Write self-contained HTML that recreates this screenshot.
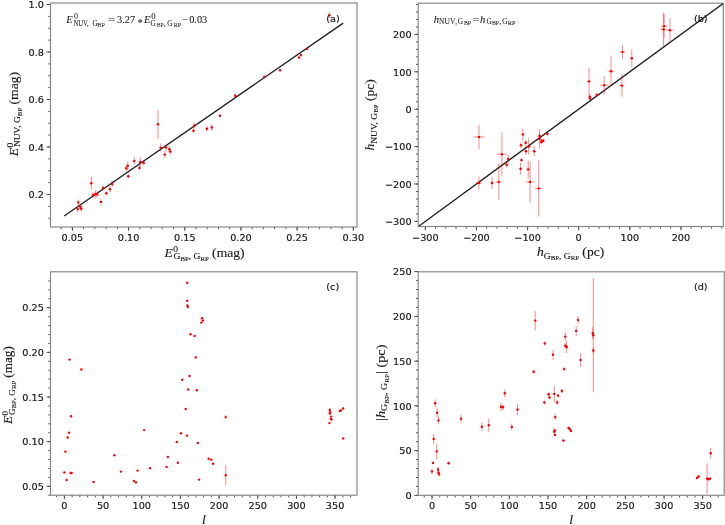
<!DOCTYPE html>
<html><head><meta charset="utf-8"><title>figure</title>
<style>
html,body{margin:0;padding:0;background:#fff;}
svg{display:block;}
.sp{fill:none;stroke:#858585;stroke-width:1.15;}
.tk{stroke:#444;stroke-width:0.9;}
.tl{font-family:"DejaVu Sans",sans-serif;font-size:9.7px;fill:#1a1a1a;stroke:#1a1a1a;stroke-width:0.2px;}
.mt{font-family:"Liberation Serif",serif;fill:#1a1a1a;stroke:#1a1a1a;stroke-width:0.008em;}
.eb{stroke:#ff0000;stroke-opacity:0.45;stroke-width:1.05;}
.pt{fill:#ff0000;}
.fl{stroke:#202020;stroke-width:1.35;}
</style></head>
<body>
<svg width="725" height="525" viewBox="0 0 725 525">
<rect width="725" height="525" fill="#fff"/>
<!--axes-->
<line x1="61.16" y1="227.00" x2="61.16" y2="229.20" class="tk"/>
<line x1="72.40" y1="227.00" x2="72.40" y2="229.20" class="tk"/>
<line x1="83.64" y1="227.00" x2="83.64" y2="229.20" class="tk"/>
<line x1="94.87" y1="227.00" x2="94.87" y2="229.20" class="tk"/>
<line x1="106.11" y1="227.00" x2="106.11" y2="229.20" class="tk"/>
<line x1="117.34" y1="227.00" x2="117.34" y2="229.20" class="tk"/>
<line x1="128.58" y1="227.00" x2="128.58" y2="229.20" class="tk"/>
<line x1="139.82" y1="227.00" x2="139.82" y2="229.20" class="tk"/>
<line x1="151.05" y1="227.00" x2="151.05" y2="229.20" class="tk"/>
<line x1="162.29" y1="227.00" x2="162.29" y2="229.20" class="tk"/>
<line x1="173.52" y1="227.00" x2="173.52" y2="229.20" class="tk"/>
<line x1="184.76" y1="227.00" x2="184.76" y2="229.20" class="tk"/>
<line x1="196.00" y1="227.00" x2="196.00" y2="229.20" class="tk"/>
<line x1="207.23" y1="227.00" x2="207.23" y2="229.20" class="tk"/>
<line x1="218.47" y1="227.00" x2="218.47" y2="229.20" class="tk"/>
<line x1="229.70" y1="227.00" x2="229.70" y2="229.20" class="tk"/>
<line x1="240.94" y1="227.00" x2="240.94" y2="229.20" class="tk"/>
<line x1="252.18" y1="227.00" x2="252.18" y2="229.20" class="tk"/>
<line x1="263.41" y1="227.00" x2="263.41" y2="229.20" class="tk"/>
<line x1="274.65" y1="227.00" x2="274.65" y2="229.20" class="tk"/>
<line x1="285.88" y1="227.00" x2="285.88" y2="229.20" class="tk"/>
<line x1="297.12" y1="227.00" x2="297.12" y2="229.20" class="tk"/>
<line x1="308.36" y1="227.00" x2="308.36" y2="229.20" class="tk"/>
<line x1="319.59" y1="227.00" x2="319.59" y2="229.20" class="tk"/>
<line x1="330.83" y1="227.00" x2="330.83" y2="229.20" class="tk"/>
<line x1="342.06" y1="227.00" x2="342.06" y2="229.20" class="tk"/>
<line x1="353.30" y1="227.00" x2="353.30" y2="229.20" class="tk"/>
<line x1="72.40" y1="227.00" x2="72.40" y2="231.00" class="tk"/>
<text transform="translate(72.40,241.10) scale(1,0.97)" class="tl" text-anchor="middle">0.05</text>
<line x1="128.58" y1="227.00" x2="128.58" y2="231.00" class="tk"/>
<text transform="translate(128.58,241.10) scale(1,0.97)" class="tl" text-anchor="middle">0.10</text>
<line x1="184.76" y1="227.00" x2="184.76" y2="231.00" class="tk"/>
<text transform="translate(184.76,241.10) scale(1,0.97)" class="tl" text-anchor="middle">0.15</text>
<line x1="240.94" y1="227.00" x2="240.94" y2="231.00" class="tk"/>
<text transform="translate(240.94,241.10) scale(1,0.97)" class="tl" text-anchor="middle">0.20</text>
<line x1="297.12" y1="227.00" x2="297.12" y2="231.00" class="tk"/>
<text transform="translate(297.12,241.10) scale(1,0.97)" class="tl" text-anchor="middle">0.25</text>
<line x1="353.30" y1="227.00" x2="353.30" y2="231.00" class="tk"/>
<text transform="translate(353.30,241.10) scale(1,0.97)" class="tl" text-anchor="middle">0.30</text>
<line x1="48.30" y1="218.25" x2="50.50" y2="218.25" class="tk"/>
<line x1="48.30" y1="206.38" x2="50.50" y2="206.38" class="tk"/>
<line x1="48.30" y1="194.50" x2="50.50" y2="194.50" class="tk"/>
<line x1="48.30" y1="182.62" x2="50.50" y2="182.62" class="tk"/>
<line x1="48.30" y1="170.75" x2="50.50" y2="170.75" class="tk"/>
<line x1="48.30" y1="158.88" x2="50.50" y2="158.88" class="tk"/>
<line x1="48.30" y1="147.00" x2="50.50" y2="147.00" class="tk"/>
<line x1="48.30" y1="135.12" x2="50.50" y2="135.12" class="tk"/>
<line x1="48.30" y1="123.25" x2="50.50" y2="123.25" class="tk"/>
<line x1="48.30" y1="111.37" x2="50.50" y2="111.37" class="tk"/>
<line x1="48.30" y1="99.50" x2="50.50" y2="99.50" class="tk"/>
<line x1="48.30" y1="87.62" x2="50.50" y2="87.62" class="tk"/>
<line x1="48.30" y1="75.75" x2="50.50" y2="75.75" class="tk"/>
<line x1="48.30" y1="63.88" x2="50.50" y2="63.88" class="tk"/>
<line x1="48.30" y1="52.00" x2="50.50" y2="52.00" class="tk"/>
<line x1="48.30" y1="40.13" x2="50.50" y2="40.13" class="tk"/>
<line x1="48.30" y1="28.25" x2="50.50" y2="28.25" class="tk"/>
<line x1="48.30" y1="16.38" x2="50.50" y2="16.38" class="tk"/>
<line x1="48.30" y1="4.50" x2="50.50" y2="4.50" class="tk"/>
<line x1="46.50" y1="194.50" x2="50.50" y2="194.50" class="tk"/>
<text transform="translate(43.90,198.20) scale(1,0.97)" class="tl" text-anchor="end">0.2</text>
<line x1="46.50" y1="147.00" x2="50.50" y2="147.00" class="tk"/>
<text transform="translate(43.90,150.70) scale(1,0.97)" class="tl" text-anchor="end">0.4</text>
<line x1="46.50" y1="99.50" x2="50.50" y2="99.50" class="tk"/>
<text transform="translate(43.90,103.20) scale(1,0.97)" class="tl" text-anchor="end">0.6</text>
<line x1="46.50" y1="52.00" x2="50.50" y2="52.00" class="tk"/>
<text transform="translate(43.90,55.70) scale(1,0.97)" class="tl" text-anchor="end">0.8</text>
<line x1="46.50" y1="4.50" x2="50.50" y2="4.50" class="tk"/>
<text transform="translate(43.90,8.20) scale(1,0.97)" class="tl" text-anchor="end">1.0</text>
<rect x="50.50" y="3.00" width="306.50" height="224.00" class="sp"/>
<line x1="425.34" y1="226.50" x2="425.34" y2="228.70" class="tk"/>
<line x1="435.56" y1="226.50" x2="435.56" y2="228.70" class="tk"/>
<line x1="445.79" y1="226.50" x2="445.79" y2="228.70" class="tk"/>
<line x1="456.01" y1="226.50" x2="456.01" y2="228.70" class="tk"/>
<line x1="466.24" y1="226.50" x2="466.24" y2="228.70" class="tk"/>
<line x1="476.46" y1="226.50" x2="476.46" y2="228.70" class="tk"/>
<line x1="486.68" y1="226.50" x2="486.68" y2="228.70" class="tk"/>
<line x1="496.91" y1="226.50" x2="496.91" y2="228.70" class="tk"/>
<line x1="507.13" y1="226.50" x2="507.13" y2="228.70" class="tk"/>
<line x1="517.36" y1="226.50" x2="517.36" y2="228.70" class="tk"/>
<line x1="527.58" y1="226.50" x2="527.58" y2="228.70" class="tk"/>
<line x1="537.80" y1="226.50" x2="537.80" y2="228.70" class="tk"/>
<line x1="548.03" y1="226.50" x2="548.03" y2="228.70" class="tk"/>
<line x1="558.25" y1="226.50" x2="558.25" y2="228.70" class="tk"/>
<line x1="568.48" y1="226.50" x2="568.48" y2="228.70" class="tk"/>
<line x1="578.70" y1="226.50" x2="578.70" y2="228.70" class="tk"/>
<line x1="588.92" y1="226.50" x2="588.92" y2="228.70" class="tk"/>
<line x1="599.15" y1="226.50" x2="599.15" y2="228.70" class="tk"/>
<line x1="609.37" y1="226.50" x2="609.37" y2="228.70" class="tk"/>
<line x1="619.60" y1="226.50" x2="619.60" y2="228.70" class="tk"/>
<line x1="629.82" y1="226.50" x2="629.82" y2="228.70" class="tk"/>
<line x1="640.04" y1="226.50" x2="640.04" y2="228.70" class="tk"/>
<line x1="650.27" y1="226.50" x2="650.27" y2="228.70" class="tk"/>
<line x1="660.49" y1="226.50" x2="660.49" y2="228.70" class="tk"/>
<line x1="670.72" y1="226.50" x2="670.72" y2="228.70" class="tk"/>
<line x1="680.94" y1="226.50" x2="680.94" y2="228.70" class="tk"/>
<line x1="691.16" y1="226.50" x2="691.16" y2="228.70" class="tk"/>
<line x1="701.39" y1="226.50" x2="701.39" y2="228.70" class="tk"/>
<line x1="711.61" y1="226.50" x2="711.61" y2="228.70" class="tk"/>
<line x1="721.84" y1="226.50" x2="721.84" y2="228.70" class="tk"/>
<line x1="425.34" y1="226.50" x2="425.34" y2="230.50" class="tk"/>
<text transform="translate(425.34,240.60) scale(1,0.97)" class="tl" text-anchor="middle">−300</text>
<line x1="476.46" y1="226.50" x2="476.46" y2="230.50" class="tk"/>
<text transform="translate(476.46,240.60) scale(1,0.97)" class="tl" text-anchor="middle">−200</text>
<line x1="527.58" y1="226.50" x2="527.58" y2="230.50" class="tk"/>
<text transform="translate(527.58,240.60) scale(1,0.97)" class="tl" text-anchor="middle">−100</text>
<line x1="578.70" y1="226.50" x2="578.70" y2="230.50" class="tk"/>
<text transform="translate(578.70,240.60) scale(1,0.97)" class="tl" text-anchor="middle">0</text>
<line x1="629.82" y1="226.50" x2="629.82" y2="230.50" class="tk"/>
<text transform="translate(629.82,240.60) scale(1,0.97)" class="tl" text-anchor="middle">100</text>
<line x1="680.94" y1="226.50" x2="680.94" y2="230.50" class="tk"/>
<text transform="translate(680.94,240.60) scale(1,0.97)" class="tl" text-anchor="middle">200</text>
<line x1="416.00" y1="221.40" x2="418.20" y2="221.40" class="tk"/>
<line x1="416.00" y1="213.92" x2="418.20" y2="213.92" class="tk"/>
<line x1="416.00" y1="206.44" x2="418.20" y2="206.44" class="tk"/>
<line x1="416.00" y1="198.96" x2="418.20" y2="198.96" class="tk"/>
<line x1="416.00" y1="191.48" x2="418.20" y2="191.48" class="tk"/>
<line x1="416.00" y1="184.00" x2="418.20" y2="184.00" class="tk"/>
<line x1="416.00" y1="176.52" x2="418.20" y2="176.52" class="tk"/>
<line x1="416.00" y1="169.04" x2="418.20" y2="169.04" class="tk"/>
<line x1="416.00" y1="161.56" x2="418.20" y2="161.56" class="tk"/>
<line x1="416.00" y1="154.08" x2="418.20" y2="154.08" class="tk"/>
<line x1="416.00" y1="146.60" x2="418.20" y2="146.60" class="tk"/>
<line x1="416.00" y1="139.12" x2="418.20" y2="139.12" class="tk"/>
<line x1="416.00" y1="131.64" x2="418.20" y2="131.64" class="tk"/>
<line x1="416.00" y1="124.16" x2="418.20" y2="124.16" class="tk"/>
<line x1="416.00" y1="116.68" x2="418.20" y2="116.68" class="tk"/>
<line x1="416.00" y1="109.20" x2="418.20" y2="109.20" class="tk"/>
<line x1="416.00" y1="101.72" x2="418.20" y2="101.72" class="tk"/>
<line x1="416.00" y1="94.24" x2="418.20" y2="94.24" class="tk"/>
<line x1="416.00" y1="86.76" x2="418.20" y2="86.76" class="tk"/>
<line x1="416.00" y1="79.28" x2="418.20" y2="79.28" class="tk"/>
<line x1="416.00" y1="71.80" x2="418.20" y2="71.80" class="tk"/>
<line x1="416.00" y1="64.32" x2="418.20" y2="64.32" class="tk"/>
<line x1="416.00" y1="56.84" x2="418.20" y2="56.84" class="tk"/>
<line x1="416.00" y1="49.36" x2="418.20" y2="49.36" class="tk"/>
<line x1="416.00" y1="41.88" x2="418.20" y2="41.88" class="tk"/>
<line x1="416.00" y1="34.40" x2="418.20" y2="34.40" class="tk"/>
<line x1="416.00" y1="26.92" x2="418.20" y2="26.92" class="tk"/>
<line x1="416.00" y1="19.44" x2="418.20" y2="19.44" class="tk"/>
<line x1="416.00" y1="11.96" x2="418.20" y2="11.96" class="tk"/>
<line x1="416.00" y1="4.48" x2="418.20" y2="4.48" class="tk"/>
<line x1="414.20" y1="221.40" x2="418.20" y2="221.40" class="tk"/>
<text transform="translate(411.60,225.10) scale(1,0.97)" class="tl" text-anchor="end">−300</text>
<line x1="414.20" y1="184.00" x2="418.20" y2="184.00" class="tk"/>
<text transform="translate(411.60,187.70) scale(1,0.97)" class="tl" text-anchor="end">−200</text>
<line x1="414.20" y1="146.60" x2="418.20" y2="146.60" class="tk"/>
<text transform="translate(411.60,150.30) scale(1,0.97)" class="tl" text-anchor="end">−100</text>
<line x1="414.20" y1="109.20" x2="418.20" y2="109.20" class="tk"/>
<text transform="translate(411.60,112.90) scale(1,0.97)" class="tl" text-anchor="end">0</text>
<line x1="414.20" y1="71.80" x2="418.20" y2="71.80" class="tk"/>
<text transform="translate(411.60,75.50) scale(1,0.97)" class="tl" text-anchor="end">100</text>
<line x1="414.20" y1="34.40" x2="418.20" y2="34.40" class="tk"/>
<text transform="translate(411.60,38.10) scale(1,0.97)" class="tl" text-anchor="end">200</text>
<rect x="418.20" y="3.20" width="305.10" height="223.30" class="sp"/>
<line x1="56.67" y1="495.20" x2="56.67" y2="497.40" class="tk"/>
<line x1="64.40" y1="495.20" x2="64.40" y2="497.40" class="tk"/>
<line x1="72.14" y1="495.20" x2="72.14" y2="497.40" class="tk"/>
<line x1="79.87" y1="495.20" x2="79.87" y2="497.40" class="tk"/>
<line x1="87.61" y1="495.20" x2="87.61" y2="497.40" class="tk"/>
<line x1="95.34" y1="495.20" x2="95.34" y2="497.40" class="tk"/>
<line x1="103.08" y1="495.20" x2="103.08" y2="497.40" class="tk"/>
<line x1="110.81" y1="495.20" x2="110.81" y2="497.40" class="tk"/>
<line x1="118.55" y1="495.20" x2="118.55" y2="497.40" class="tk"/>
<line x1="126.28" y1="495.20" x2="126.28" y2="497.40" class="tk"/>
<line x1="134.01" y1="495.20" x2="134.01" y2="497.40" class="tk"/>
<line x1="141.75" y1="495.20" x2="141.75" y2="497.40" class="tk"/>
<line x1="149.49" y1="495.20" x2="149.49" y2="497.40" class="tk"/>
<line x1="157.22" y1="495.20" x2="157.22" y2="497.40" class="tk"/>
<line x1="164.95" y1="495.20" x2="164.95" y2="497.40" class="tk"/>
<line x1="172.69" y1="495.20" x2="172.69" y2="497.40" class="tk"/>
<line x1="180.43" y1="495.20" x2="180.43" y2="497.40" class="tk"/>
<line x1="188.16" y1="495.20" x2="188.16" y2="497.40" class="tk"/>
<line x1="195.90" y1="495.20" x2="195.90" y2="497.40" class="tk"/>
<line x1="203.63" y1="495.20" x2="203.63" y2="497.40" class="tk"/>
<line x1="211.37" y1="495.20" x2="211.37" y2="497.40" class="tk"/>
<line x1="219.10" y1="495.20" x2="219.10" y2="497.40" class="tk"/>
<line x1="226.84" y1="495.20" x2="226.84" y2="497.40" class="tk"/>
<line x1="234.57" y1="495.20" x2="234.57" y2="497.40" class="tk"/>
<line x1="242.31" y1="495.20" x2="242.31" y2="497.40" class="tk"/>
<line x1="250.04" y1="495.20" x2="250.04" y2="497.40" class="tk"/>
<line x1="257.77" y1="495.20" x2="257.77" y2="497.40" class="tk"/>
<line x1="265.51" y1="495.20" x2="265.51" y2="497.40" class="tk"/>
<line x1="273.25" y1="495.20" x2="273.25" y2="497.40" class="tk"/>
<line x1="280.98" y1="495.20" x2="280.98" y2="497.40" class="tk"/>
<line x1="288.72" y1="495.20" x2="288.72" y2="497.40" class="tk"/>
<line x1="296.45" y1="495.20" x2="296.45" y2="497.40" class="tk"/>
<line x1="304.19" y1="495.20" x2="304.19" y2="497.40" class="tk"/>
<line x1="311.92" y1="495.20" x2="311.92" y2="497.40" class="tk"/>
<line x1="319.65" y1="495.20" x2="319.65" y2="497.40" class="tk"/>
<line x1="327.39" y1="495.20" x2="327.39" y2="497.40" class="tk"/>
<line x1="335.12" y1="495.20" x2="335.12" y2="497.40" class="tk"/>
<line x1="342.86" y1="495.20" x2="342.86" y2="497.40" class="tk"/>
<line x1="350.60" y1="495.20" x2="350.60" y2="497.40" class="tk"/>
<line x1="64.40" y1="495.20" x2="64.40" y2="499.20" class="tk"/>
<text transform="translate(64.40,509.30) scale(1,0.97)" class="tl" text-anchor="middle">0</text>
<line x1="103.08" y1="495.20" x2="103.08" y2="499.20" class="tk"/>
<text transform="translate(103.08,509.30) scale(1,0.97)" class="tl" text-anchor="middle">50</text>
<line x1="141.75" y1="495.20" x2="141.75" y2="499.20" class="tk"/>
<text transform="translate(141.75,509.30) scale(1,0.97)" class="tl" text-anchor="middle">100</text>
<line x1="180.43" y1="495.20" x2="180.43" y2="499.20" class="tk"/>
<text transform="translate(180.43,509.30) scale(1,0.97)" class="tl" text-anchor="middle">150</text>
<line x1="219.10" y1="495.20" x2="219.10" y2="499.20" class="tk"/>
<text transform="translate(219.10,509.30) scale(1,0.97)" class="tl" text-anchor="middle">200</text>
<line x1="257.77" y1="495.20" x2="257.77" y2="499.20" class="tk"/>
<text transform="translate(257.77,509.30) scale(1,0.97)" class="tl" text-anchor="middle">250</text>
<line x1="296.45" y1="495.20" x2="296.45" y2="499.20" class="tk"/>
<text transform="translate(296.45,509.30) scale(1,0.97)" class="tl" text-anchor="middle">300</text>
<line x1="335.12" y1="495.20" x2="335.12" y2="499.20" class="tk"/>
<text transform="translate(335.12,509.30) scale(1,0.97)" class="tl" text-anchor="middle">350</text>
<line x1="48.30" y1="495.23" x2="50.50" y2="495.23" class="tk"/>
<line x1="48.30" y1="486.30" x2="50.50" y2="486.30" class="tk"/>
<line x1="48.30" y1="477.37" x2="50.50" y2="477.37" class="tk"/>
<line x1="48.30" y1="468.44" x2="50.50" y2="468.44" class="tk"/>
<line x1="48.30" y1="459.51" x2="50.50" y2="459.51" class="tk"/>
<line x1="48.30" y1="450.58" x2="50.50" y2="450.58" class="tk"/>
<line x1="48.30" y1="441.65" x2="50.50" y2="441.65" class="tk"/>
<line x1="48.30" y1="432.72" x2="50.50" y2="432.72" class="tk"/>
<line x1="48.30" y1="423.79" x2="50.50" y2="423.79" class="tk"/>
<line x1="48.30" y1="414.86" x2="50.50" y2="414.86" class="tk"/>
<line x1="48.30" y1="405.93" x2="50.50" y2="405.93" class="tk"/>
<line x1="48.30" y1="397.00" x2="50.50" y2="397.00" class="tk"/>
<line x1="48.30" y1="388.07" x2="50.50" y2="388.07" class="tk"/>
<line x1="48.30" y1="379.14" x2="50.50" y2="379.14" class="tk"/>
<line x1="48.30" y1="370.21" x2="50.50" y2="370.21" class="tk"/>
<line x1="48.30" y1="361.28" x2="50.50" y2="361.28" class="tk"/>
<line x1="48.30" y1="352.35" x2="50.50" y2="352.35" class="tk"/>
<line x1="48.30" y1="343.42" x2="50.50" y2="343.42" class="tk"/>
<line x1="48.30" y1="334.49" x2="50.50" y2="334.49" class="tk"/>
<line x1="48.30" y1="325.56" x2="50.50" y2="325.56" class="tk"/>
<line x1="48.30" y1="316.63" x2="50.50" y2="316.63" class="tk"/>
<line x1="48.30" y1="307.70" x2="50.50" y2="307.70" class="tk"/>
<line x1="48.30" y1="298.77" x2="50.50" y2="298.77" class="tk"/>
<line x1="48.30" y1="289.84" x2="50.50" y2="289.84" class="tk"/>
<line x1="48.30" y1="280.91" x2="50.50" y2="280.91" class="tk"/>
<line x1="46.50" y1="486.30" x2="50.50" y2="486.30" class="tk"/>
<text transform="translate(43.90,490.00) scale(1,0.97)" class="tl" text-anchor="end">0.05</text>
<line x1="46.50" y1="441.65" x2="50.50" y2="441.65" class="tk"/>
<text transform="translate(43.90,445.35) scale(1,0.97)" class="tl" text-anchor="end">0.10</text>
<line x1="46.50" y1="397.00" x2="50.50" y2="397.00" class="tk"/>
<text transform="translate(43.90,400.70) scale(1,0.97)" class="tl" text-anchor="end">0.15</text>
<line x1="46.50" y1="352.35" x2="50.50" y2="352.35" class="tk"/>
<text transform="translate(43.90,356.05) scale(1,0.97)" class="tl" text-anchor="end">0.20</text>
<line x1="46.50" y1="307.70" x2="50.50" y2="307.70" class="tk"/>
<text transform="translate(43.90,311.40) scale(1,0.97)" class="tl" text-anchor="end">0.25</text>
<rect x="50.50" y="271.80" width="306.50" height="223.40" class="sp"/>
<line x1="424.26" y1="495.30" x2="424.26" y2="497.50" class="tk"/>
<line x1="432.00" y1="495.30" x2="432.00" y2="497.50" class="tk"/>
<line x1="439.74" y1="495.30" x2="439.74" y2="497.50" class="tk"/>
<line x1="447.47" y1="495.30" x2="447.47" y2="497.50" class="tk"/>
<line x1="455.20" y1="495.30" x2="455.20" y2="497.50" class="tk"/>
<line x1="462.94" y1="495.30" x2="462.94" y2="497.50" class="tk"/>
<line x1="470.68" y1="495.30" x2="470.68" y2="497.50" class="tk"/>
<line x1="478.41" y1="495.30" x2="478.41" y2="497.50" class="tk"/>
<line x1="486.14" y1="495.30" x2="486.14" y2="497.50" class="tk"/>
<line x1="493.88" y1="495.30" x2="493.88" y2="497.50" class="tk"/>
<line x1="501.62" y1="495.30" x2="501.62" y2="497.50" class="tk"/>
<line x1="509.35" y1="495.30" x2="509.35" y2="497.50" class="tk"/>
<line x1="517.09" y1="495.30" x2="517.09" y2="497.50" class="tk"/>
<line x1="524.82" y1="495.30" x2="524.82" y2="497.50" class="tk"/>
<line x1="532.55" y1="495.30" x2="532.55" y2="497.50" class="tk"/>
<line x1="540.29" y1="495.30" x2="540.29" y2="497.50" class="tk"/>
<line x1="548.02" y1="495.30" x2="548.02" y2="497.50" class="tk"/>
<line x1="555.76" y1="495.30" x2="555.76" y2="497.50" class="tk"/>
<line x1="563.50" y1="495.30" x2="563.50" y2="497.50" class="tk"/>
<line x1="571.23" y1="495.30" x2="571.23" y2="497.50" class="tk"/>
<line x1="578.97" y1="495.30" x2="578.97" y2="497.50" class="tk"/>
<line x1="586.70" y1="495.30" x2="586.70" y2="497.50" class="tk"/>
<line x1="594.43" y1="495.30" x2="594.43" y2="497.50" class="tk"/>
<line x1="602.17" y1="495.30" x2="602.17" y2="497.50" class="tk"/>
<line x1="609.90" y1="495.30" x2="609.90" y2="497.50" class="tk"/>
<line x1="617.64" y1="495.30" x2="617.64" y2="497.50" class="tk"/>
<line x1="625.38" y1="495.30" x2="625.38" y2="497.50" class="tk"/>
<line x1="633.11" y1="495.30" x2="633.11" y2="497.50" class="tk"/>
<line x1="640.85" y1="495.30" x2="640.85" y2="497.50" class="tk"/>
<line x1="648.58" y1="495.30" x2="648.58" y2="497.50" class="tk"/>
<line x1="656.32" y1="495.30" x2="656.32" y2="497.50" class="tk"/>
<line x1="664.05" y1="495.30" x2="664.05" y2="497.50" class="tk"/>
<line x1="671.78" y1="495.30" x2="671.78" y2="497.50" class="tk"/>
<line x1="679.52" y1="495.30" x2="679.52" y2="497.50" class="tk"/>
<line x1="687.25" y1="495.30" x2="687.25" y2="497.50" class="tk"/>
<line x1="694.99" y1="495.30" x2="694.99" y2="497.50" class="tk"/>
<line x1="702.72" y1="495.30" x2="702.72" y2="497.50" class="tk"/>
<line x1="710.46" y1="495.30" x2="710.46" y2="497.50" class="tk"/>
<line x1="718.19" y1="495.30" x2="718.19" y2="497.50" class="tk"/>
<line x1="432.00" y1="495.30" x2="432.00" y2="499.30" class="tk"/>
<text transform="translate(432.00,509.40) scale(1,0.97)" class="tl" text-anchor="middle">0</text>
<line x1="470.68" y1="495.30" x2="470.68" y2="499.30" class="tk"/>
<text transform="translate(470.68,509.40) scale(1,0.97)" class="tl" text-anchor="middle">50</text>
<line x1="509.35" y1="495.30" x2="509.35" y2="499.30" class="tk"/>
<text transform="translate(509.35,509.40) scale(1,0.97)" class="tl" text-anchor="middle">100</text>
<line x1="548.02" y1="495.30" x2="548.02" y2="499.30" class="tk"/>
<text transform="translate(548.02,509.40) scale(1,0.97)" class="tl" text-anchor="middle">150</text>
<line x1="586.70" y1="495.30" x2="586.70" y2="499.30" class="tk"/>
<text transform="translate(586.70,509.40) scale(1,0.97)" class="tl" text-anchor="middle">200</text>
<line x1="625.38" y1="495.30" x2="625.38" y2="499.30" class="tk"/>
<text transform="translate(625.38,509.40) scale(1,0.97)" class="tl" text-anchor="middle">250</text>
<line x1="664.05" y1="495.30" x2="664.05" y2="499.30" class="tk"/>
<text transform="translate(664.05,509.40) scale(1,0.97)" class="tl" text-anchor="middle">300</text>
<line x1="702.72" y1="495.30" x2="702.72" y2="499.30" class="tk"/>
<text transform="translate(702.72,509.40) scale(1,0.97)" class="tl" text-anchor="middle">350</text>
<line x1="416.00" y1="495.40" x2="418.20" y2="495.40" class="tk"/>
<line x1="416.00" y1="486.45" x2="418.20" y2="486.45" class="tk"/>
<line x1="416.00" y1="477.50" x2="418.20" y2="477.50" class="tk"/>
<line x1="416.00" y1="468.54" x2="418.20" y2="468.54" class="tk"/>
<line x1="416.00" y1="459.59" x2="418.20" y2="459.59" class="tk"/>
<line x1="416.00" y1="450.64" x2="418.20" y2="450.64" class="tk"/>
<line x1="416.00" y1="441.69" x2="418.20" y2="441.69" class="tk"/>
<line x1="416.00" y1="432.74" x2="418.20" y2="432.74" class="tk"/>
<line x1="416.00" y1="423.78" x2="418.20" y2="423.78" class="tk"/>
<line x1="416.00" y1="414.83" x2="418.20" y2="414.83" class="tk"/>
<line x1="416.00" y1="405.88" x2="418.20" y2="405.88" class="tk"/>
<line x1="416.00" y1="396.93" x2="418.20" y2="396.93" class="tk"/>
<line x1="416.00" y1="387.98" x2="418.20" y2="387.98" class="tk"/>
<line x1="416.00" y1="379.02" x2="418.20" y2="379.02" class="tk"/>
<line x1="416.00" y1="370.07" x2="418.20" y2="370.07" class="tk"/>
<line x1="416.00" y1="361.12" x2="418.20" y2="361.12" class="tk"/>
<line x1="416.00" y1="352.17" x2="418.20" y2="352.17" class="tk"/>
<line x1="416.00" y1="343.22" x2="418.20" y2="343.22" class="tk"/>
<line x1="416.00" y1="334.26" x2="418.20" y2="334.26" class="tk"/>
<line x1="416.00" y1="325.31" x2="418.20" y2="325.31" class="tk"/>
<line x1="416.00" y1="316.36" x2="418.20" y2="316.36" class="tk"/>
<line x1="416.00" y1="307.41" x2="418.20" y2="307.41" class="tk"/>
<line x1="416.00" y1="298.46" x2="418.20" y2="298.46" class="tk"/>
<line x1="416.00" y1="289.50" x2="418.20" y2="289.50" class="tk"/>
<line x1="416.00" y1="280.55" x2="418.20" y2="280.55" class="tk"/>
<line x1="416.00" y1="271.60" x2="418.20" y2="271.60" class="tk"/>
<line x1="414.20" y1="495.40" x2="418.20" y2="495.40" class="tk"/>
<text transform="translate(411.60,499.10) scale(1,0.97)" class="tl" text-anchor="end">0</text>
<line x1="414.20" y1="450.64" x2="418.20" y2="450.64" class="tk"/>
<text transform="translate(411.60,454.34) scale(1,0.97)" class="tl" text-anchor="end">50</text>
<line x1="414.20" y1="405.88" x2="418.20" y2="405.88" class="tk"/>
<text transform="translate(411.60,409.58) scale(1,0.97)" class="tl" text-anchor="end">100</text>
<line x1="414.20" y1="361.12" x2="418.20" y2="361.12" class="tk"/>
<text transform="translate(411.60,364.82) scale(1,0.97)" class="tl" text-anchor="end">150</text>
<line x1="414.20" y1="316.36" x2="418.20" y2="316.36" class="tk"/>
<text transform="translate(411.60,320.06) scale(1,0.97)" class="tl" text-anchor="end">200</text>
<line x1="414.20" y1="271.60" x2="418.20" y2="271.60" class="tk"/>
<text transform="translate(411.60,275.30) scale(1,0.97)" class="tl" text-anchor="end">250</text>
<rect x="418.20" y="271.80" width="306.00" height="223.50" class="sp"/>
<line x1="64.20" y1="215.96" x2="343.19" y2="23.13" class="fl"/>
<clipPath id="cb"><rect x="418.2" y="3.2" width="305.1" height="223.3"/></clipPath>
<line x1="410.00" y1="232.62" x2="732.06" y2="-3.00" class="fl" clip-path="url(#cb)"/>
<line x1="78.30" y1="199.40" x2="78.30" y2="205.40" class="eb"/>
<line x1="77.10" y1="202.40" x2="79.50" y2="202.40" class="eb"/>
<line x1="77.70" y1="206.00" x2="77.70" y2="212.00" class="eb"/>
<line x1="76.50" y1="209.00" x2="78.90" y2="209.00" class="eb"/>
<line x1="80.30" y1="203.80" x2="80.30" y2="209.80" class="eb"/>
<line x1="79.10" y1="206.80" x2="81.50" y2="206.80" class="eb"/>
<line x1="81.20" y1="205.80" x2="81.20" y2="211.80" class="eb"/>
<line x1="80.00" y1="208.80" x2="82.40" y2="208.80" class="eb"/>
<line x1="91.30" y1="176.80" x2="91.30" y2="189.80" class="eb"/>
<line x1="90.10" y1="183.30" x2="92.50" y2="183.30" class="eb"/>
<line x1="93.00" y1="191.90" x2="93.00" y2="197.90" class="eb"/>
<line x1="91.80" y1="194.90" x2="94.20" y2="194.90" class="eb"/>
<line x1="95.60" y1="190.00" x2="95.60" y2="198.00" class="eb"/>
<line x1="94.40" y1="194.00" x2="96.80" y2="194.00" class="eb"/>
<line x1="97.20" y1="191.40" x2="97.20" y2="197.40" class="eb"/>
<line x1="96.00" y1="194.40" x2="98.40" y2="194.40" class="eb"/>
<line x1="100.90" y1="198.40" x2="100.90" y2="205.40" class="eb"/>
<line x1="99.70" y1="201.90" x2="102.10" y2="201.90" class="eb"/>
<line x1="102.90" y1="185.50" x2="102.90" y2="190.50" class="eb"/>
<line x1="101.70" y1="188.00" x2="104.10" y2="188.00" class="eb"/>
<line x1="106.30" y1="190.80" x2="106.30" y2="195.80" class="eb"/>
<line x1="105.10" y1="193.30" x2="107.50" y2="193.30" class="eb"/>
<line x1="110.00" y1="186.20" x2="110.00" y2="192.20" class="eb"/>
<line x1="108.80" y1="189.20" x2="111.20" y2="189.20" class="eb"/>
<line x1="112.20" y1="181.10" x2="112.20" y2="187.10" class="eb"/>
<line x1="111.00" y1="184.10" x2="113.40" y2="184.10" class="eb"/>
<line x1="126.20" y1="165.30" x2="126.20" y2="171.30" class="eb"/>
<line x1="125.00" y1="168.30" x2="127.40" y2="168.30" class="eb"/>
<line x1="127.80" y1="161.20" x2="127.80" y2="170.20" class="eb"/>
<line x1="126.60" y1="165.70" x2="129.00" y2="165.70" class="eb"/>
<line x1="128.30" y1="174.30" x2="128.30" y2="178.30" class="eb"/>
<line x1="127.10" y1="176.30" x2="129.50" y2="176.30" class="eb"/>
<line x1="134.30" y1="157.50" x2="134.30" y2="164.50" class="eb"/>
<line x1="133.10" y1="161.00" x2="135.50" y2="161.00" class="eb"/>
<line x1="139.50" y1="165.40" x2="139.50" y2="170.40" class="eb"/>
<line x1="138.30" y1="167.90" x2="140.70" y2="167.90" class="eb"/>
<line x1="140.30" y1="157.00" x2="140.30" y2="167.00" class="eb"/>
<line x1="139.10" y1="162.00" x2="141.50" y2="162.00" class="eb"/>
<line x1="143.70" y1="160.40" x2="143.70" y2="165.40" class="eb"/>
<line x1="142.50" y1="162.90" x2="144.90" y2="162.90" class="eb"/>
<line x1="158.00" y1="109.90" x2="158.00" y2="138.70" class="eb"/>
<line x1="156.80" y1="124.30" x2="159.20" y2="124.30" class="eb"/>
<line x1="160.70" y1="143.60" x2="160.70" y2="151.60" class="eb"/>
<line x1="159.50" y1="147.60" x2="161.90" y2="147.60" class="eb"/>
<line x1="166.00" y1="144.00" x2="166.00" y2="151.00" class="eb"/>
<line x1="164.80" y1="147.50" x2="167.20" y2="147.50" class="eb"/>
<line x1="164.80" y1="151.10" x2="164.80" y2="158.10" class="eb"/>
<line x1="163.60" y1="154.60" x2="166.00" y2="154.60" class="eb"/>
<line x1="169.30" y1="145.70" x2="169.30" y2="152.70" class="eb"/>
<line x1="168.10" y1="149.20" x2="170.50" y2="149.20" class="eb"/>
<line x1="170.40" y1="148.60" x2="170.40" y2="154.60" class="eb"/>
<line x1="169.20" y1="151.60" x2="171.60" y2="151.60" class="eb"/>
<line x1="194.30" y1="122.70" x2="194.30" y2="128.70" class="eb"/>
<line x1="193.10" y1="125.70" x2="195.50" y2="125.70" class="eb"/>
<line x1="193.50" y1="128.70" x2="193.50" y2="132.70" class="eb"/>
<line x1="192.30" y1="130.70" x2="194.70" y2="130.70" class="eb"/>
<line x1="206.90" y1="125.80" x2="206.90" y2="131.80" class="eb"/>
<line x1="205.70" y1="128.80" x2="208.10" y2="128.80" class="eb"/>
<line x1="211.80" y1="124.00" x2="211.80" y2="131.00" class="eb"/>
<line x1="210.60" y1="127.50" x2="213.00" y2="127.50" class="eb"/>
<line x1="219.90" y1="114.30" x2="219.90" y2="117.30" class="eb"/>
<line x1="218.90" y1="115.80" x2="220.90" y2="115.80" class="eb"/>
<line x1="235.20" y1="93.70" x2="235.20" y2="97.70" class="eb"/>
<line x1="234.20" y1="95.70" x2="236.20" y2="95.70" class="eb"/>
<line x1="264.30" y1="75.50" x2="264.30" y2="78.50" class="eb"/>
<line x1="263.30" y1="77.00" x2="265.30" y2="77.00" class="eb"/>
<line x1="280.10" y1="68.70" x2="280.10" y2="71.70" class="eb"/>
<line x1="279.10" y1="70.20" x2="281.10" y2="70.20" class="eb"/>
<line x1="299.00" y1="56.10" x2="299.00" y2="59.10" class="eb"/>
<line x1="298.00" y1="57.60" x2="300.00" y2="57.60" class="eb"/>
<line x1="300.90" y1="53.50" x2="300.90" y2="56.50" class="eb"/>
<line x1="299.90" y1="55.00" x2="301.90" y2="55.00" class="eb"/>
<line x1="307.00" y1="47.40" x2="307.00" y2="50.40" class="eb"/>
<line x1="306.00" y1="48.90" x2="308.00" y2="48.90" class="eb"/>
<line x1="329.40" y1="12.30" x2="329.40" y2="18.30" class="eb"/>
<line x1="328.40" y1="15.30" x2="330.40" y2="15.30" class="eb"/>
<circle cx="78.30" cy="202.40" r="1.2" class="pt"/>
<circle cx="77.70" cy="209.00" r="1.2" class="pt"/>
<circle cx="80.30" cy="206.80" r="1.2" class="pt"/>
<circle cx="81.20" cy="208.80" r="1.2" class="pt"/>
<circle cx="91.30" cy="183.30" r="1.2" class="pt"/>
<circle cx="93.00" cy="194.90" r="1.2" class="pt"/>
<circle cx="95.60" cy="194.00" r="1.2" class="pt"/>
<circle cx="97.20" cy="194.40" r="1.2" class="pt"/>
<circle cx="100.90" cy="201.90" r="1.2" class="pt"/>
<circle cx="102.90" cy="188.00" r="1.2" class="pt"/>
<circle cx="106.30" cy="193.30" r="1.2" class="pt"/>
<circle cx="110.00" cy="189.20" r="1.2" class="pt"/>
<circle cx="112.20" cy="184.10" r="1.2" class="pt"/>
<circle cx="126.20" cy="168.30" r="1.2" class="pt"/>
<circle cx="127.80" cy="165.70" r="1.2" class="pt"/>
<circle cx="128.30" cy="176.30" r="1.2" class="pt"/>
<circle cx="134.30" cy="161.00" r="1.2" class="pt"/>
<circle cx="139.50" cy="167.90" r="1.2" class="pt"/>
<circle cx="140.30" cy="162.00" r="1.2" class="pt"/>
<circle cx="143.70" cy="162.90" r="1.2" class="pt"/>
<circle cx="158.00" cy="124.30" r="1.2" class="pt"/>
<circle cx="160.70" cy="147.60" r="1.2" class="pt"/>
<circle cx="166.00" cy="147.50" r="1.2" class="pt"/>
<circle cx="164.80" cy="154.60" r="1.2" class="pt"/>
<circle cx="169.30" cy="149.20" r="1.2" class="pt"/>
<circle cx="170.40" cy="151.60" r="1.2" class="pt"/>
<circle cx="194.30" cy="125.70" r="1.2" class="pt"/>
<circle cx="193.50" cy="130.70" r="1.2" class="pt"/>
<circle cx="206.90" cy="128.80" r="1.2" class="pt"/>
<circle cx="211.80" cy="127.50" r="1.2" class="pt"/>
<circle cx="219.90" cy="115.80" r="1.2" class="pt"/>
<circle cx="235.20" cy="95.70" r="1.2" class="pt"/>
<circle cx="264.30" cy="77.00" r="1.2" class="pt"/>
<circle cx="280.10" cy="70.20" r="1.2" class="pt"/>
<circle cx="299.00" cy="57.60" r="1.2" class="pt"/>
<circle cx="300.90" cy="55.00" r="1.2" class="pt"/>
<circle cx="307.00" cy="48.90" r="1.2" class="pt"/>
<circle cx="329.40" cy="15.30" r="1.2" class="pt"/>
<line x1="479.00" y1="125.00" x2="479.00" y2="149.00" class="eb"/>
<line x1="473.30" y1="137.00" x2="484.70" y2="137.00" class="eb"/>
<line x1="478.90" y1="176.50" x2="478.90" y2="189.50" class="eb"/>
<line x1="475.90" y1="183.00" x2="481.90" y2="183.00" class="eb"/>
<line x1="492.10" y1="177.00" x2="492.10" y2="189.00" class="eb"/>
<line x1="490.60" y1="183.00" x2="493.60" y2="183.00" class="eb"/>
<line x1="498.80" y1="164.00" x2="498.80" y2="200.00" class="eb"/>
<line x1="495.80" y1="182.00" x2="501.80" y2="182.00" class="eb"/>
<line x1="501.90" y1="132.60" x2="501.90" y2="175.80" class="eb"/>
<line x1="496.90" y1="154.20" x2="506.90" y2="154.20" class="eb"/>
<line x1="508.20" y1="155.00" x2="508.20" y2="163.00" class="eb"/>
<line x1="506.70" y1="159.00" x2="509.70" y2="159.00" class="eb"/>
<line x1="506.70" y1="161.70" x2="506.70" y2="167.70" class="eb"/>
<line x1="505.20" y1="164.70" x2="508.20" y2="164.70" class="eb"/>
<line x1="521.50" y1="158.10" x2="521.50" y2="162.10" class="eb"/>
<line x1="520.00" y1="160.10" x2="523.00" y2="160.10" class="eb"/>
<line x1="520.60" y1="162.70" x2="520.60" y2="174.70" class="eb"/>
<line x1="519.10" y1="168.70" x2="522.10" y2="168.70" class="eb"/>
<line x1="521.00" y1="142.20" x2="521.00" y2="148.20" class="eb"/>
<line x1="519.50" y1="145.20" x2="522.50" y2="145.20" class="eb"/>
<line x1="522.90" y1="128.40" x2="522.90" y2="140.40" class="eb"/>
<line x1="521.40" y1="134.40" x2="524.40" y2="134.40" class="eb"/>
<line x1="525.70" y1="139.80" x2="525.70" y2="145.80" class="eb"/>
<line x1="524.20" y1="142.80" x2="527.20" y2="142.80" class="eb"/>
<line x1="525.90" y1="147.30" x2="525.90" y2="155.30" class="eb"/>
<line x1="524.40" y1="151.30" x2="527.40" y2="151.30" class="eb"/>
<line x1="528.60" y1="138.60" x2="528.60" y2="154.60" class="eb"/>
<line x1="525.60" y1="146.60" x2="531.60" y2="146.60" class="eb"/>
<line x1="528.20" y1="160.40" x2="528.20" y2="178.40" class="eb"/>
<line x1="526.70" y1="169.40" x2="529.70" y2="169.40" class="eb"/>
<line x1="530.10" y1="161.50" x2="530.10" y2="202.50" class="eb"/>
<line x1="526.10" y1="182.00" x2="534.10" y2="182.00" class="eb"/>
<line x1="534.30" y1="146.30" x2="534.30" y2="156.30" class="eb"/>
<line x1="532.80" y1="151.30" x2="535.80" y2="151.30" class="eb"/>
<line x1="538.70" y1="160.30" x2="538.70" y2="216.70" class="eb"/>
<line x1="535.10" y1="188.50" x2="542.30" y2="188.50" class="eb"/>
<line x1="539.60" y1="133.00" x2="539.60" y2="139.00" class="eb"/>
<line x1="538.10" y1="136.00" x2="541.10" y2="136.00" class="eb"/>
<line x1="539.60" y1="129.20" x2="539.60" y2="148.60" class="eb"/>
<line x1="538.10" y1="138.90" x2="541.10" y2="138.90" class="eb"/>
<line x1="542.00" y1="139.00" x2="542.00" y2="143.00" class="eb"/>
<line x1="540.50" y1="141.00" x2="543.50" y2="141.00" class="eb"/>
<line x1="543.30" y1="138.70" x2="543.30" y2="142.70" class="eb"/>
<line x1="541.80" y1="140.70" x2="544.80" y2="140.70" class="eb"/>
<line x1="541.30" y1="140.00" x2="541.30" y2="144.00" class="eb"/>
<line x1="539.80" y1="142.00" x2="542.80" y2="142.00" class="eb"/>
<line x1="547.40" y1="131.90" x2="547.40" y2="135.90" class="eb"/>
<line x1="545.90" y1="133.90" x2="548.90" y2="133.90" class="eb"/>
<line x1="589.00" y1="67.40" x2="589.00" y2="95.40" class="eb"/>
<line x1="587.50" y1="81.40" x2="590.50" y2="81.40" class="eb"/>
<line x1="589.80" y1="93.70" x2="589.80" y2="99.70" class="eb"/>
<line x1="588.30" y1="96.70" x2="591.30" y2="96.70" class="eb"/>
<line x1="590.00" y1="96.20" x2="590.00" y2="100.20" class="eb"/>
<line x1="588.50" y1="98.20" x2="591.50" y2="98.20" class="eb"/>
<line x1="596.80" y1="92.90" x2="596.80" y2="96.90" class="eb"/>
<line x1="595.30" y1="94.90" x2="598.30" y2="94.90" class="eb"/>
<line x1="604.20" y1="75.70" x2="604.20" y2="94.70" class="eb"/>
<line x1="599.90" y1="85.20" x2="608.50" y2="85.20" class="eb"/>
<line x1="611.00" y1="56.30" x2="611.00" y2="86.30" class="eb"/>
<line x1="607.60" y1="71.30" x2="614.40" y2="71.30" class="eb"/>
<line x1="621.90" y1="74.40" x2="621.90" y2="96.80" class="eb"/>
<line x1="619.50" y1="85.60" x2="624.30" y2="85.60" class="eb"/>
<line x1="622.50" y1="44.60" x2="622.50" y2="59.20" class="eb"/>
<line x1="619.80" y1="51.90" x2="625.20" y2="51.90" class="eb"/>
<line x1="631.80" y1="49.40" x2="631.80" y2="67.00" class="eb"/>
<line x1="630.30" y1="58.20" x2="633.30" y2="58.20" class="eb"/>
<line x1="664.20" y1="14.10" x2="664.20" y2="38.10" class="eb"/>
<line x1="660.90" y1="26.10" x2="667.50" y2="26.10" class="eb"/>
<line x1="663.50" y1="12.50" x2="663.50" y2="46.30" class="eb"/>
<line x1="660.10" y1="29.40" x2="666.90" y2="29.40" class="eb"/>
<line x1="670.00" y1="18.10" x2="670.00" y2="42.50" class="eb"/>
<line x1="666.60" y1="30.30" x2="673.40" y2="30.30" class="eb"/>
<circle cx="479.00" cy="137.00" r="1.2" class="pt"/>
<circle cx="478.90" cy="183.00" r="1.2" class="pt"/>
<circle cx="492.10" cy="183.00" r="1.2" class="pt"/>
<circle cx="498.80" cy="182.00" r="1.2" class="pt"/>
<circle cx="501.90" cy="154.20" r="1.2" class="pt"/>
<circle cx="508.20" cy="159.00" r="1.2" class="pt"/>
<circle cx="506.70" cy="164.70" r="1.2" class="pt"/>
<circle cx="521.50" cy="160.10" r="1.2" class="pt"/>
<circle cx="520.60" cy="168.70" r="1.2" class="pt"/>
<circle cx="521.00" cy="145.20" r="1.2" class="pt"/>
<circle cx="522.90" cy="134.40" r="1.2" class="pt"/>
<circle cx="525.70" cy="142.80" r="1.2" class="pt"/>
<circle cx="525.90" cy="151.30" r="1.2" class="pt"/>
<circle cx="528.60" cy="146.60" r="1.2" class="pt"/>
<circle cx="528.20" cy="169.40" r="1.2" class="pt"/>
<circle cx="530.10" cy="182.00" r="1.2" class="pt"/>
<circle cx="534.30" cy="151.30" r="1.2" class="pt"/>
<circle cx="538.70" cy="188.50" r="1.2" class="pt"/>
<circle cx="539.60" cy="136.00" r="1.2" class="pt"/>
<circle cx="539.60" cy="138.90" r="1.2" class="pt"/>
<circle cx="542.00" cy="141.00" r="1.2" class="pt"/>
<circle cx="543.30" cy="140.70" r="1.2" class="pt"/>
<circle cx="541.30" cy="142.00" r="1.2" class="pt"/>
<circle cx="547.40" cy="133.90" r="1.2" class="pt"/>
<circle cx="589.00" cy="81.40" r="1.2" class="pt"/>
<circle cx="589.80" cy="96.70" r="1.2" class="pt"/>
<circle cx="590.00" cy="98.20" r="1.2" class="pt"/>
<circle cx="596.80" cy="94.90" r="1.2" class="pt"/>
<circle cx="604.20" cy="85.20" r="1.2" class="pt"/>
<circle cx="611.00" cy="71.30" r="1.2" class="pt"/>
<circle cx="621.90" cy="85.60" r="1.2" class="pt"/>
<circle cx="622.50" cy="51.90" r="1.2" class="pt"/>
<circle cx="631.80" cy="58.20" r="1.2" class="pt"/>
<circle cx="664.20" cy="26.10" r="1.2" class="pt"/>
<circle cx="663.50" cy="29.40" r="1.2" class="pt"/>
<circle cx="670.00" cy="30.30" r="1.2" class="pt"/>
<line x1="225.70" y1="415.10" x2="225.70" y2="419.10" class="eb"/>
<line x1="225.80" y1="464.90" x2="225.80" y2="485.50" class="eb"/>
<circle cx="69.60" cy="359.60" r="1.2" class="pt"/>
<circle cx="81.40" cy="369.50" r="1.2" class="pt"/>
<circle cx="71.00" cy="416.20" r="1.2" class="pt"/>
<circle cx="69.00" cy="432.70" r="1.2" class="pt"/>
<circle cx="67.70" cy="437.50" r="1.2" class="pt"/>
<circle cx="65.40" cy="451.60" r="1.2" class="pt"/>
<circle cx="64.40" cy="472.40" r="1.2" class="pt"/>
<circle cx="66.60" cy="480.00" r="1.2" class="pt"/>
<circle cx="70.60" cy="473.00" r="1.2" class="pt"/>
<circle cx="71.60" cy="473.00" r="1.2" class="pt"/>
<circle cx="93.60" cy="482.00" r="1.2" class="pt"/>
<circle cx="114.40" cy="455.20" r="1.2" class="pt"/>
<circle cx="121.00" cy="471.60" r="1.2" class="pt"/>
<circle cx="134.00" cy="481.00" r="1.2" class="pt"/>
<circle cx="136.00" cy="482.40" r="1.2" class="pt"/>
<circle cx="137.60" cy="470.60" r="1.2" class="pt"/>
<circle cx="144.20" cy="430.10" r="1.2" class="pt"/>
<circle cx="187.20" cy="282.80" r="1.2" class="pt"/>
<circle cx="187.20" cy="300.70" r="1.2" class="pt"/>
<circle cx="187.40" cy="305.40" r="1.2" class="pt"/>
<circle cx="188.00" cy="307.10" r="1.2" class="pt"/>
<circle cx="202.10" cy="318.20" r="1.2" class="pt"/>
<circle cx="202.90" cy="320.50" r="1.2" class="pt"/>
<circle cx="201.30" cy="322.60" r="1.2" class="pt"/>
<circle cx="190.50" cy="334.20" r="1.2" class="pt"/>
<circle cx="194.70" cy="335.90" r="1.2" class="pt"/>
<circle cx="195.80" cy="357.40" r="1.2" class="pt"/>
<circle cx="189.50" cy="376.00" r="1.2" class="pt"/>
<circle cx="182.30" cy="379.80" r="1.2" class="pt"/>
<circle cx="188.20" cy="389.50" r="1.2" class="pt"/>
<circle cx="196.80" cy="390.30" r="1.2" class="pt"/>
<circle cx="185.70" cy="409.00" r="1.2" class="pt"/>
<circle cx="225.70" cy="417.10" r="1.2" class="pt"/>
<circle cx="181.00" cy="433.30" r="1.2" class="pt"/>
<circle cx="186.90" cy="435.60" r="1.2" class="pt"/>
<circle cx="176.80" cy="442.00" r="1.2" class="pt"/>
<circle cx="197.90" cy="443.00" r="1.2" class="pt"/>
<circle cx="167.90" cy="457.00" r="1.2" class="pt"/>
<circle cx="208.60" cy="458.80" r="1.2" class="pt"/>
<circle cx="211.30" cy="459.70" r="1.2" class="pt"/>
<circle cx="177.90" cy="462.80" r="1.2" class="pt"/>
<circle cx="213.10" cy="463.70" r="1.2" class="pt"/>
<circle cx="150.10" cy="468.30" r="1.2" class="pt"/>
<circle cx="166.60" cy="466.90" r="1.2" class="pt"/>
<circle cx="199.00" cy="479.60" r="1.2" class="pt"/>
<circle cx="225.80" cy="475.20" r="1.2" class="pt"/>
<circle cx="329.70" cy="409.70" r="1.2" class="pt"/>
<circle cx="330.20" cy="412.00" r="1.2" class="pt"/>
<circle cx="329.90" cy="413.50" r="1.2" class="pt"/>
<circle cx="331.20" cy="416.60" r="1.2" class="pt"/>
<circle cx="330.90" cy="418.90" r="1.2" class="pt"/>
<circle cx="331.50" cy="419.60" r="1.2" class="pt"/>
<circle cx="329.40" cy="423.10" r="1.2" class="pt"/>
<circle cx="339.90" cy="410.90" r="1.2" class="pt"/>
<circle cx="340.80" cy="410.50" r="1.2" class="pt"/>
<circle cx="343.10" cy="408.50" r="1.2" class="pt"/>
<circle cx="343.10" cy="438.40" r="1.2" class="pt"/>
<line x1="435.20" y1="399.20" x2="435.20" y2="407.20" class="eb"/>
<line x1="434.20" y1="403.20" x2="436.20" y2="403.20" class="eb"/>
<line x1="437.10" y1="407.80" x2="437.10" y2="417.80" class="eb"/>
<line x1="436.10" y1="412.80" x2="438.10" y2="412.80" class="eb"/>
<line x1="438.50" y1="416.40" x2="438.50" y2="424.40" class="eb"/>
<line x1="437.50" y1="420.40" x2="439.50" y2="420.40" class="eb"/>
<line x1="433.70" y1="434.00" x2="433.70" y2="444.00" class="eb"/>
<line x1="432.70" y1="439.00" x2="434.70" y2="439.00" class="eb"/>
<line x1="436.80" y1="443.40" x2="436.80" y2="459.40" class="eb"/>
<line x1="435.80" y1="451.40" x2="437.80" y2="451.40" class="eb"/>
<line x1="433.00" y1="461.40" x2="433.00" y2="464.40" class="eb"/>
<line x1="432.00" y1="462.90" x2="434.00" y2="462.90" class="eb"/>
<line x1="432.00" y1="468.40" x2="432.00" y2="474.40" class="eb"/>
<line x1="431.00" y1="471.40" x2="433.00" y2="471.40" class="eb"/>
<line x1="438.10" y1="466.50" x2="438.10" y2="472.50" class="eb"/>
<line x1="437.10" y1="469.50" x2="439.10" y2="469.50" class="eb"/>
<line x1="438.50" y1="470.40" x2="438.50" y2="474.40" class="eb"/>
<line x1="437.50" y1="472.40" x2="439.50" y2="472.40" class="eb"/>
<line x1="439.00" y1="472.30" x2="439.00" y2="476.30" class="eb"/>
<line x1="438.00" y1="474.30" x2="440.00" y2="474.30" class="eb"/>
<line x1="448.60" y1="461.70" x2="448.60" y2="464.70" class="eb"/>
<line x1="447.60" y1="463.20" x2="449.60" y2="463.20" class="eb"/>
<line x1="461.00" y1="414.70" x2="461.00" y2="422.70" class="eb"/>
<line x1="460.00" y1="418.70" x2="462.00" y2="418.70" class="eb"/>
<line x1="481.90" y1="422.20" x2="481.90" y2="431.20" class="eb"/>
<line x1="480.90" y1="426.70" x2="482.90" y2="426.70" class="eb"/>
<line x1="488.80" y1="418.30" x2="488.80" y2="432.30" class="eb"/>
<line x1="487.80" y1="425.30" x2="489.80" y2="425.30" class="eb"/>
<line x1="501.00" y1="402.40" x2="501.00" y2="411.00" class="eb"/>
<line x1="500.00" y1="406.70" x2="502.00" y2="406.70" class="eb"/>
<line x1="502.90" y1="404.20" x2="502.90" y2="410.20" class="eb"/>
<line x1="501.90" y1="407.20" x2="503.90" y2="407.20" class="eb"/>
<line x1="504.80" y1="389.30" x2="504.80" y2="397.30" class="eb"/>
<line x1="503.80" y1="393.30" x2="505.80" y2="393.30" class="eb"/>
<line x1="511.80" y1="423.50" x2="511.80" y2="430.50" class="eb"/>
<line x1="510.80" y1="427.00" x2="512.80" y2="427.00" class="eb"/>
<line x1="517.50" y1="404.00" x2="517.50" y2="415.00" class="eb"/>
<line x1="516.50" y1="409.50" x2="518.50" y2="409.50" class="eb"/>
<line x1="535.20" y1="310.90" x2="535.20" y2="330.30" class="eb"/>
<line x1="534.20" y1="320.60" x2="536.20" y2="320.60" class="eb"/>
<line x1="544.80" y1="341.40" x2="544.80" y2="345.40" class="eb"/>
<line x1="543.80" y1="343.40" x2="545.80" y2="343.40" class="eb"/>
<line x1="553.00" y1="349.70" x2="553.00" y2="359.70" class="eb"/>
<line x1="552.00" y1="354.70" x2="554.00" y2="354.70" class="eb"/>
<line x1="565.30" y1="332.30" x2="565.30" y2="340.90" class="eb"/>
<line x1="564.30" y1="336.60" x2="566.30" y2="336.60" class="eb"/>
<line x1="565.30" y1="342.70" x2="565.30" y2="348.70" class="eb"/>
<line x1="564.30" y1="345.70" x2="566.30" y2="345.70" class="eb"/>
<line x1="566.70" y1="341.00" x2="566.70" y2="353.00" class="eb"/>
<line x1="565.70" y1="347.00" x2="567.70" y2="347.00" class="eb"/>
<line x1="564.20" y1="367.10" x2="564.20" y2="371.10" class="eb"/>
<line x1="563.20" y1="369.10" x2="565.20" y2="369.10" class="eb"/>
<line x1="576.20" y1="325.90" x2="576.20" y2="335.90" class="eb"/>
<line x1="575.20" y1="330.90" x2="577.20" y2="330.90" class="eb"/>
<line x1="578.10" y1="315.70" x2="578.10" y2="324.30" class="eb"/>
<line x1="577.10" y1="320.00" x2="579.10" y2="320.00" class="eb"/>
<line x1="580.60" y1="353.00" x2="580.60" y2="367.00" class="eb"/>
<line x1="579.60" y1="360.00" x2="581.60" y2="360.00" class="eb"/>
<line x1="592.80" y1="327.30" x2="592.80" y2="339.30" class="eb"/>
<line x1="591.80" y1="333.30" x2="593.80" y2="333.30" class="eb"/>
<line x1="593.30" y1="278.20" x2="593.30" y2="392.20" class="eb"/>
<line x1="592.30" y1="335.20" x2="594.30" y2="335.20" class="eb"/>
<line x1="593.30" y1="347.50" x2="593.30" y2="353.50" class="eb"/>
<line x1="592.30" y1="350.50" x2="594.30" y2="350.50" class="eb"/>
<line x1="533.70" y1="369.80" x2="533.70" y2="373.80" class="eb"/>
<line x1="532.70" y1="371.80" x2="534.70" y2="371.80" class="eb"/>
<line x1="548.60" y1="392.30" x2="548.60" y2="396.30" class="eb"/>
<line x1="547.60" y1="394.30" x2="549.60" y2="394.30" class="eb"/>
<line x1="549.50" y1="395.50" x2="549.50" y2="399.50" class="eb"/>
<line x1="548.50" y1="397.50" x2="550.50" y2="397.50" class="eb"/>
<line x1="554.30" y1="385.90" x2="554.30" y2="401.90" class="eb"/>
<line x1="553.30" y1="393.90" x2="555.30" y2="393.90" class="eb"/>
<line x1="558.10" y1="393.60" x2="558.10" y2="397.60" class="eb"/>
<line x1="557.10" y1="395.60" x2="559.10" y2="395.60" class="eb"/>
<line x1="561.90" y1="389.00" x2="561.90" y2="393.00" class="eb"/>
<line x1="560.90" y1="391.00" x2="562.90" y2="391.00" class="eb"/>
<line x1="544.40" y1="400.50" x2="544.40" y2="404.50" class="eb"/>
<line x1="543.40" y1="402.50" x2="545.40" y2="402.50" class="eb"/>
<line x1="557.10" y1="400.00" x2="557.10" y2="405.00" class="eb"/>
<line x1="556.10" y1="402.50" x2="558.10" y2="402.50" class="eb"/>
<line x1="555.20" y1="414.10" x2="555.20" y2="420.10" class="eb"/>
<line x1="554.20" y1="417.10" x2="556.20" y2="417.10" class="eb"/>
<line x1="554.70" y1="428.50" x2="554.70" y2="432.50" class="eb"/>
<line x1="553.70" y1="430.50" x2="555.70" y2="430.50" class="eb"/>
<line x1="554.30" y1="429.80" x2="554.30" y2="433.80" class="eb"/>
<line x1="553.30" y1="431.80" x2="555.30" y2="431.80" class="eb"/>
<line x1="554.90" y1="433.40" x2="554.90" y2="436.40" class="eb"/>
<line x1="553.90" y1="434.90" x2="555.90" y2="434.90" class="eb"/>
<line x1="568.60" y1="426.50" x2="568.60" y2="429.50" class="eb"/>
<line x1="567.60" y1="428.00" x2="569.60" y2="428.00" class="eb"/>
<line x1="569.90" y1="427.60" x2="569.90" y2="430.60" class="eb"/>
<line x1="568.90" y1="429.10" x2="570.90" y2="429.10" class="eb"/>
<line x1="570.90" y1="429.40" x2="570.90" y2="432.40" class="eb"/>
<line x1="569.90" y1="430.90" x2="571.90" y2="430.90" class="eb"/>
<line x1="563.40" y1="439.10" x2="563.40" y2="442.10" class="eb"/>
<line x1="562.40" y1="440.60" x2="564.40" y2="440.60" class="eb"/>
<line x1="710.70" y1="448.00" x2="710.70" y2="458.60" class="eb"/>
<line x1="709.70" y1="453.30" x2="711.70" y2="453.30" class="eb"/>
<line x1="697.10" y1="476.40" x2="697.10" y2="479.40" class="eb"/>
<line x1="696.10" y1="477.90" x2="698.10" y2="477.90" class="eb"/>
<line x1="698.60" y1="474.90" x2="698.60" y2="477.90" class="eb"/>
<line x1="697.60" y1="476.40" x2="699.60" y2="476.40" class="eb"/>
<line x1="707.10" y1="463.20" x2="707.10" y2="494.00" class="eb"/>
<line x1="706.10" y1="478.60" x2="708.10" y2="478.60" class="eb"/>
<line x1="708.60" y1="477.80" x2="708.60" y2="480.80" class="eb"/>
<line x1="707.60" y1="479.30" x2="709.60" y2="479.30" class="eb"/>
<line x1="710.00" y1="477.10" x2="710.00" y2="480.10" class="eb"/>
<line x1="709.00" y1="478.60" x2="711.00" y2="478.60" class="eb"/>
<circle cx="435.20" cy="403.20" r="1.2" class="pt"/>
<circle cx="437.10" cy="412.80" r="1.2" class="pt"/>
<circle cx="438.50" cy="420.40" r="1.2" class="pt"/>
<circle cx="433.70" cy="439.00" r="1.2" class="pt"/>
<circle cx="436.80" cy="451.40" r="1.2" class="pt"/>
<circle cx="433.00" cy="462.90" r="1.2" class="pt"/>
<circle cx="432.00" cy="471.40" r="1.2" class="pt"/>
<circle cx="438.10" cy="469.50" r="1.2" class="pt"/>
<circle cx="438.50" cy="472.40" r="1.2" class="pt"/>
<circle cx="439.00" cy="474.30" r="1.2" class="pt"/>
<circle cx="448.60" cy="463.20" r="1.2" class="pt"/>
<circle cx="461.00" cy="418.70" r="1.2" class="pt"/>
<circle cx="481.90" cy="426.70" r="1.2" class="pt"/>
<circle cx="488.80" cy="425.30" r="1.2" class="pt"/>
<circle cx="501.00" cy="406.70" r="1.2" class="pt"/>
<circle cx="502.90" cy="407.20" r="1.2" class="pt"/>
<circle cx="504.80" cy="393.30" r="1.2" class="pt"/>
<circle cx="511.80" cy="427.00" r="1.2" class="pt"/>
<circle cx="517.50" cy="409.50" r="1.2" class="pt"/>
<circle cx="535.20" cy="320.60" r="1.2" class="pt"/>
<circle cx="544.80" cy="343.40" r="1.2" class="pt"/>
<circle cx="553.00" cy="354.70" r="1.2" class="pt"/>
<circle cx="565.30" cy="336.60" r="1.2" class="pt"/>
<circle cx="565.30" cy="345.70" r="1.2" class="pt"/>
<circle cx="566.70" cy="347.00" r="1.2" class="pt"/>
<circle cx="564.20" cy="369.10" r="1.2" class="pt"/>
<circle cx="576.20" cy="330.90" r="1.2" class="pt"/>
<circle cx="578.10" cy="320.00" r="1.2" class="pt"/>
<circle cx="580.60" cy="360.00" r="1.2" class="pt"/>
<circle cx="592.80" cy="333.30" r="1.2" class="pt"/>
<circle cx="593.30" cy="335.20" r="1.2" class="pt"/>
<circle cx="593.30" cy="350.50" r="1.2" class="pt"/>
<circle cx="533.70" cy="371.80" r="1.2" class="pt"/>
<circle cx="548.60" cy="394.30" r="1.2" class="pt"/>
<circle cx="549.50" cy="397.50" r="1.2" class="pt"/>
<circle cx="554.30" cy="393.90" r="1.2" class="pt"/>
<circle cx="558.10" cy="395.60" r="1.2" class="pt"/>
<circle cx="561.90" cy="391.00" r="1.2" class="pt"/>
<circle cx="544.40" cy="402.50" r="1.2" class="pt"/>
<circle cx="557.10" cy="402.50" r="1.2" class="pt"/>
<circle cx="555.20" cy="417.10" r="1.2" class="pt"/>
<circle cx="554.70" cy="430.50" r="1.2" class="pt"/>
<circle cx="554.30" cy="431.80" r="1.2" class="pt"/>
<circle cx="554.90" cy="434.90" r="1.2" class="pt"/>
<circle cx="568.60" cy="428.00" r="1.2" class="pt"/>
<circle cx="569.90" cy="429.10" r="1.2" class="pt"/>
<circle cx="570.90" cy="430.90" r="1.2" class="pt"/>
<circle cx="563.40" cy="440.60" r="1.2" class="pt"/>
<circle cx="710.70" cy="453.30" r="1.2" class="pt"/>
<circle cx="697.10" cy="477.90" r="1.2" class="pt"/>
<circle cx="698.60" cy="476.40" r="1.2" class="pt"/>
<circle cx="707.10" cy="478.60" r="1.2" class="pt"/>
<circle cx="708.60" cy="479.30" r="1.2" class="pt"/>
<circle cx="710.00" cy="478.60" r="1.2" class="pt"/>
<text transform="translate(326.3,21.6) scale(1,0.97)" class="tl">(a)</text>
<text transform="translate(693.9,21.5) scale(1,0.97)" class="tl">(b)</text>
<text transform="translate(326.3,289.6) scale(1,0.97)" class="tl">(c)</text>
<text transform="translate(693.9,289.6) scale(1,0.97)" class="tl">(d)</text>
<text x="66.28" y="23.30" font-size="10.60" font-style="italic" class="mt">E</text>
<text x="73.98" y="18.80" font-size="7.30" class="mt" textLength="3.94" lengthAdjust="spacingAndGlyphs">0</text>
<text x="73.38" y="25.50" font-size="7.30" class="mt" textLength="15.34" lengthAdjust="spacingAndGlyphs">NUV,</text>
<text x="92.38" y="25.50" font-size="7.30" class="mt">G</text>
<text x="97.35" y="27.00" font-size="5.10" class="mt" textLength="7.41" lengthAdjust="spacingAndGlyphs">BP</text>
<text x="108.08" y="23.30" font-size="10.60" class="mt" textLength="7.24" lengthAdjust="spacingAndGlyphs">=</text>
<text x="117.08" y="23.30" font-size="10.60" class="mt" textLength="18.04" lengthAdjust="spacingAndGlyphs">3.27</text>
<text x="137.48" y="25.60" font-size="10.60" class="mt">*</text>
<text x="143.98" y="23.30" font-size="10.60" font-style="italic" class="mt">E</text>
<text x="151.38" y="18.80" font-size="7.30" class="mt" textLength="4.34" lengthAdjust="spacingAndGlyphs">0</text>
<text x="150.38" y="25.50" font-size="7.30" class="mt">G</text>
<text x="156.85" y="27.00" font-size="5.10" class="mt" textLength="6.81" lengthAdjust="spacingAndGlyphs">BP</text>
<text x="164.08" y="25.50" font-size="7.30" class="mt">,</text>
<text x="167.28" y="25.50" font-size="7.30" class="mt">G</text>
<text x="173.85" y="27.00" font-size="5.10" class="mt" textLength="7.31" lengthAdjust="spacingAndGlyphs">RP</text>
<text x="182.18" y="23.30" font-size="10.60" class="mt">−</text>
<text x="189.18" y="23.30" font-size="10.60" class="mt" textLength="18.14" lengthAdjust="spacingAndGlyphs">0.03</text>
<text x="433.68" y="22.60" font-size="10.60" font-style="italic" class="mt">h</text>
<text x="439.08" y="23.90" font-size="7.30" class="mt" textLength="16.24" lengthAdjust="spacingAndGlyphs">NUV</text>
<text x="455.28" y="23.90" font-size="7.30" class="mt">,</text>
<text x="457.78" y="23.90" font-size="7.30" class="mt">G</text>
<text x="463.95" y="25.00" font-size="5.10" class="mt" textLength="7.21" lengthAdjust="spacingAndGlyphs">BP</text>
<text x="472.78" y="22.60" font-size="10.60" class="mt" textLength="6.84" lengthAdjust="spacingAndGlyphs">=</text>
<text x="479.98" y="22.60" font-size="10.60" font-style="italic" class="mt">h</text>
<text x="486.38" y="23.90" font-size="7.30" class="mt">G</text>
<text x="491.95" y="25.00" font-size="5.10" class="mt" textLength="7.21" lengthAdjust="spacingAndGlyphs">BP</text>
<text x="499.48" y="23.90" font-size="7.30" class="mt">,</text>
<text x="502.18" y="23.90" font-size="7.30" class="mt">G</text>
<text x="507.75" y="25.00" font-size="5.10" class="mt" textLength="7.91" lengthAdjust="spacingAndGlyphs">RP</text>
<text id="xl_a" transform="translate(164.40,256.60) scale(1.08,1)" class="mt"><tspan font-size="12.60" dy="0.00" dx="0.00" font-style="italic">E</tspan><tspan font-size="8.82" dy="-4.70" dx="0.40">0</tspan><tspan font-size="8.82" dy="6.90" dx="-4.00">G</tspan><tspan font-size="6.30" dy="1.70" dx="0.00">BP</tspan><tspan font-size="8.82" dy="-1.70" dx="0.00">, G</tspan><tspan font-size="6.30" dy="1.70" dx="0.00">RP</tspan><tspan font-size="12.60" dy="-3.90" dx="0.00"> (mag)</tspan></text>
<text id="xl_b" transform="translate(537.00,256.40) scale(1.08,1)" class="mt"><tspan font-size="12.60" dy="0.00" dx="0.00" font-style="italic">h</tspan><tspan font-size="8.82" dy="2.20" dx="0.00">G</tspan><tspan font-size="6.30" dy="1.70" dx="0.00">BP</tspan><tspan font-size="8.82" dy="-1.70" dx="0.00">, G</tspan><tspan font-size="6.30" dy="1.70" dx="0.00">RP</tspan><tspan font-size="12.60" dy="-3.90" dx="0.00"> (pc)</tspan></text>
<text id="xl_c" transform="translate(201.90,523.90) scale(1.08,1)" class="mt"><tspan font-size="12.60" dy="0.00" dx="0.00" font-style="italic">l</tspan></text>
<text id="xl_d" transform="translate(569.30,523.90) scale(1.08,1)" class="mt"><tspan font-size="12.60" dy="0.00" dx="0.00" font-style="italic">l</tspan></text>
<text id="yl_a" transform="translate(17.90,156.30) rotate(-90) scale(1.08,1)" class="mt"><tspan font-size="12.60" dy="0.00" dx="0.00" font-style="italic">E</tspan><tspan font-size="8.82" dy="-4.70" dx="0.40">0</tspan><tspan font-size="8.82" dy="6.90" dx="-4.00">NUV, G</tspan><tspan font-size="6.30" dy="1.70" dx="0.00">BP</tspan><tspan font-size="12.60" dy="-3.90" dx="0.00"> (mag)</tspan></text>
<text id="yl_b" transform="translate(374.40,150.60) rotate(-90) scale(1.08,1)" class="mt"><tspan font-size="12.60" dy="0.00" dx="0.00" font-style="italic">h</tspan><tspan font-size="8.82" dy="2.20" dx="0.00">NUV, G</tspan><tspan font-size="6.30" dy="1.70" dx="0.00">BP</tspan><tspan font-size="12.60" dy="-3.90" dx="0.00"> (pc)</tspan></text>
<text id="yl_c" transform="translate(12.30,423.90) rotate(-90) scale(1.0476,1)" class="mt"><tspan font-size="12.60" dy="0.00" dx="0.00" font-style="italic">E</tspan><tspan font-size="8.82" dy="-4.70" dx="0.40">0</tspan><tspan font-size="8.82" dy="6.90" dx="-4.00">G</tspan><tspan font-size="6.30" dy="1.70" dx="0.00">BP</tspan><tspan font-size="8.82" dy="-1.70" dx="0.00">, G</tspan><tspan font-size="6.30" dy="1.70" dx="0.00">RP</tspan><tspan font-size="12.60" dy="-3.90" dx="0.00"> (mag)</tspan></text>
<text id="yl_d" transform="translate(384.60,420.90) rotate(-90) scale(1.1340000000000001,1)" class="mt"><tspan font-size="12.60" dy="0.00" dx="0.00">|</tspan><tspan font-size="12.60" dy="0.00" dx="0.00" font-style="italic">h</tspan><tspan font-size="8.82" dy="2.20" dx="0.00">G</tspan><tspan font-size="6.30" dy="1.70" dx="0.00">BP</tspan><tspan font-size="8.82" dy="-1.70" dx="0.00">, G</tspan><tspan font-size="6.30" dy="1.70" dx="0.00">RP</tspan><tspan font-size="12.60" dy="-3.90" dx="0.00">| (pc)</tspan></text>
</svg>
</body></html>
